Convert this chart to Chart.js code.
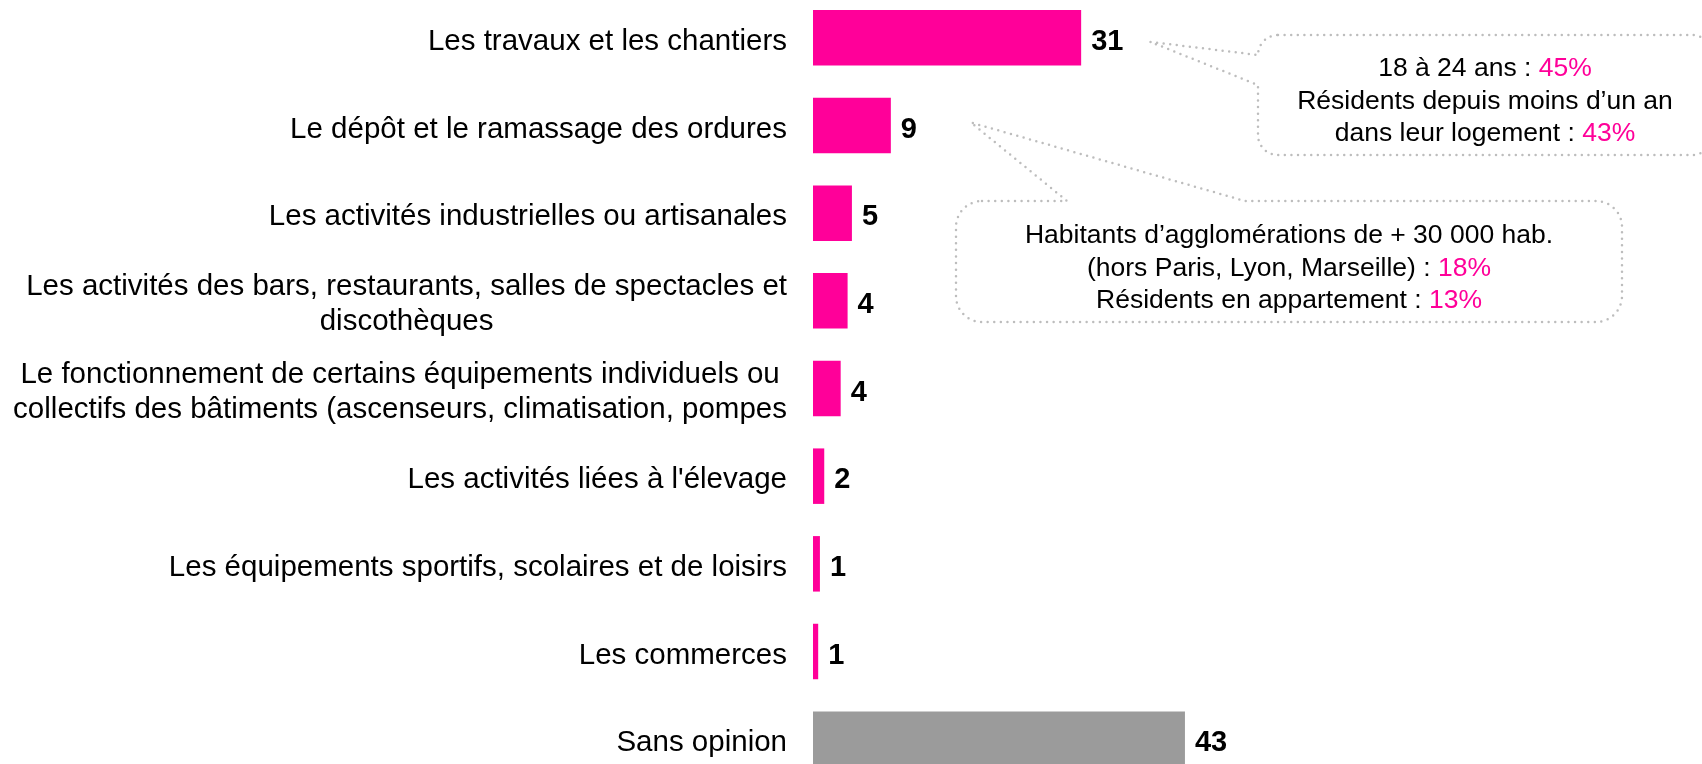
<!DOCTYPE html>
<html>
<head>
<meta charset="utf-8">
<script src="https://cdn.jsdelivr.net/npm/chart.js@4/dist/chart.umd.min.js"></script>
<style>
  html, body { margin: 0; padding: 0; background: #fff; overflow: hidden; }
  #wrap { position: absolute; left: 0; top: -6px; width: 1702px; height: 789px; }
</style>
</head>
<body>
<div id="wrap"><canvas id="chart"></canvas></div>
<script>
// categories (multi-line labels are split into lines)
const categories = [
  ["Les travaux et les chantiers"],
  ["Le dépôt et le ramassage des ordures"],
  ["Les activités industrielles ou artisanales"],
  ["Les activités des bars, restaurants, salles de spectacles et", "discothèques"],
  ["Le fonctionnement de certains équipements individuels ou", "collectifs des bâtiments (ascenseurs, climatisation, pompes"],
  ["Les activités liées à l'élevage"],
  ["Les équipements sportifs, scolaires et de loisirs"],
  ["Les commerces"],
  ["Sans opinion"],
];
// bar lengths as drawn, and the rounded numbers printed next to them
const barValues = [31, 9, 4.5, 4, 3.2, 1.3, 0.8, 0.6, 43];
const shownValues = [31, 9, 5, 4, 4, 2, 1, 1, 43];

// callout texts: [black part, pink part]
const calloutTravaux = [
  ["18 à 24 ans : ", "45%"],
  ["Résidents depuis moins d’un an", ""],
  ["dans leur logement : ", "43%"],
];
const calloutOrdures = [
  ["Habitants d’agglomérations de + 30 000 hab.", ""],
  ["(hors Paris, Lyon, Marseille) : ", "18%"],
  ["Résidents en appartement : ", "13%"],
];

const PINK = "#ff0099";
const GREY = "#9b9b9b";
const FONT = "'Liberation Sans', Arial, sans-serif";
const SHIFT = 6; // canvas sits 6px above the page top

const categoryLabels = {
  id: "categoryLabels",
  afterDraw(chart) {
    const { ctx, chartArea } = chart;
    const yScale = chart.scales.y;
    ctx.save();
    ctx.font = "29.5px " + FONT;
    ctx.fillStyle = "#000";
    ctx.textAlign = "center";
    ctx.textBaseline = "middle";
    const right = chartArea.left - 26;
    categories.forEach((lines, i) => {
      const yc = yScale.getPixelForValue(i);
      const w = Math.max(...lines.map((l) => ctx.measureText(l).width));
      const cx = right - w / 2;
      lines.forEach((l, j) => {
        ctx.fillText(l, cx, yc + 4 + (j - (lines.length - 1) / 2) * 35);
      });
    });
    ctx.restore();
  },
};

const valueLabels = {
  id: "valueLabels",
  afterDatasetsDraw(chart) {
    const { ctx } = chart;
    const meta = chart.getDatasetMeta(0);
    ctx.save();
    ctx.font = "bold 29px " + FONT;
    ctx.fillStyle = "#000";
    ctx.textAlign = "left";
    ctx.textBaseline = "middle";
    meta.data.forEach((bar, i) => {
      ctx.fillText(String(shownValues[i]), bar.x + 10, bar.y + 4);
    });
    ctx.restore();
  },
};

function drawLines(ctx, lines, cx, y0, step) {
  lines.forEach(([a, b], j) => {
    const wa = ctx.measureText(a).width;
    const wb = ctx.measureText(b).width;
    const x = cx - (wa + wb) / 2;
    const y = y0 + j * step;
    ctx.fillStyle = "#000";
    ctx.fillText(a, x, y);
    ctx.fillStyle = PINK;
    ctx.fillText(b, x + wa, y);
  });
}

const callouts = {
  id: "callouts",
  afterDraw(chart) {
    const { ctx } = chart;
    const bars = chart.getDatasetMeta(0).data;
    ctx.save();
    // draw in page coordinates
    ctx.translate(0, SHIFT);
    ctx.strokeStyle = "#bdbdbd";
    ctx.lineWidth = 2.5;
    ctx.lineCap = "round";
    ctx.setLineDash([0, 6.6]);

    // callout for "Les travaux et les chantiers" (tail on the left side)
    let b = { left: 1258, top: 35, right: 1712, bottom: 155, r: 20 };
    let tip = { x: bars[0].x + 69, y: bars[0].y - SHIFT + 4 };
    ctx.beginPath();
    ctx.moveTo(b.left + b.r, b.top);
    ctx.lineTo(b.right - b.r, b.top);
    ctx.arcTo(b.right, b.top, b.right, b.top + b.r, b.r);
    ctx.lineTo(b.right, b.bottom - b.r);
    ctx.arcTo(b.right, b.bottom, b.right - b.r, b.bottom, b.r);
    ctx.lineTo(b.left + b.r, b.bottom);
    ctx.arcTo(b.left, b.bottom, b.left, b.bottom - b.r, b.r);
    ctx.lineTo(b.left, 85);
    ctx.lineTo(tip.x, tip.y);
    ctx.lineTo(b.left, 55);
    ctx.arcTo(b.left, b.top, b.left + b.r, b.top, b.r);
    ctx.stroke();

    // callout for "Le dépôt et le ramassage des ordures" (tail on the top side)
    b = { left: 956, top: 201, right: 1622, bottom: 322, r: 26 };
    tip = { x: bars[1].x + 80, y: bars[1].y - SHIFT - 3 };
    ctx.beginPath();
    ctx.moveTo(b.left + b.r, b.top);
    ctx.lineTo(1067, b.top);
    ctx.lineTo(tip.x, tip.y);
    ctx.lineTo(1245, b.top);
    ctx.lineTo(b.right - b.r, b.top);
    ctx.arcTo(b.right, b.top, b.right, b.top + b.r, b.r);
    ctx.lineTo(b.right, b.bottom - b.r);
    ctx.arcTo(b.right, b.bottom, b.right - b.r, b.bottom, b.r);
    ctx.lineTo(b.left + b.r, b.bottom);
    ctx.arcTo(b.left, b.bottom, b.left, b.bottom - b.r, b.r);
    ctx.lineTo(b.left, b.top + b.r);
    ctx.arcTo(b.left, b.top, b.left + b.r, b.top, b.r);
    ctx.stroke();

    ctx.setLineDash([]);
    ctx.font = "26.5px " + FONT;
    ctx.textAlign = "left";
    ctx.textBaseline = "middle";
    drawLines(ctx, calloutTravaux, 1485, 69, 32.5);
    drawLines(ctx, calloutOrdures, 1289, 236, 32.5);
    ctx.restore();
  },
};

new Chart(document.getElementById("chart").getContext("2d"), {
  type: "bar",
  data: {
    labels: categories,
    datasets: [
      {
        data: barValues,
        backgroundColor: (c) => (c.dataIndex === categories.length - 1 ? GREY : PINK),
        borderWidth: 0,
        barPercentage: 0.633,
        categoryPercentage: 1,
      },
    ],
  },
  options: {
    indexAxis: "y",
    responsive: true,
    maintainAspectRatio: false,
    animation: false,
    layout: { padding: { left: 813, right: 24, top: 0, bottom: 0 } },
    plugins: {
      legend: { display: false },
      tooltip: { enabled: false },
    },
    scales: {
      x: { display: false, min: 0, max: 100 },
      y: { display: false },
    },
  },
  plugins: [categoryLabels, valueLabels, callouts],
});
</script>
</body>
</html>
